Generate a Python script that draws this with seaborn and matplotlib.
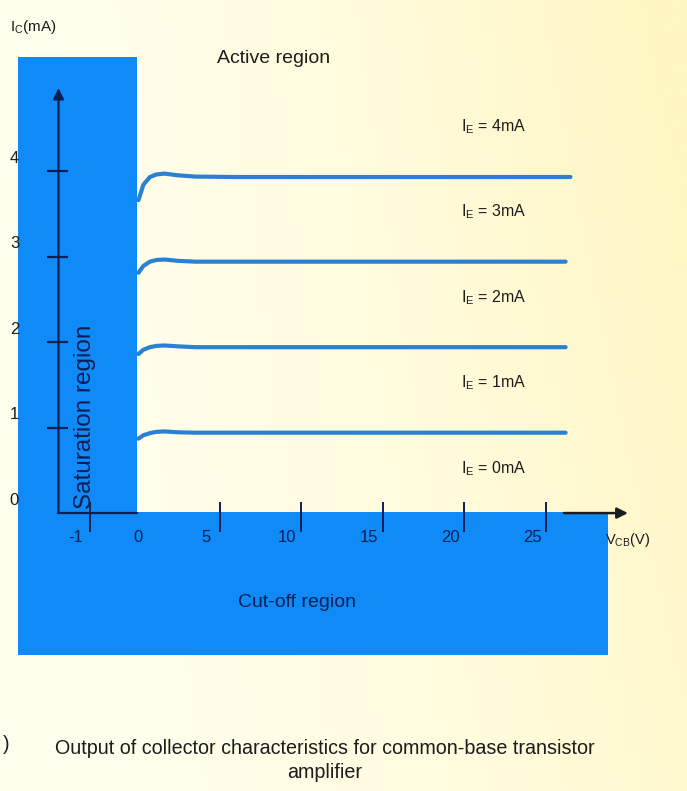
import numpy as np
import pandas as pd
import matplotlib
matplotlib.use("Agg")
import matplotlib.pyplot as plt
from matplotlib.patches import Polygon
import seaborn as sns

# ---- data -------------------------------------------------------------
# emitter-current parameter of each output curve (mA)
ie_levels = [1, 2, 3, 4]
# collector-base voltage samples (V) and collector current (mA) per curve
vcb_1ma = [0, 0.3, 0.7, 1.1, 1.6, 2.4, 3.5, 6, 26.2]
ic_1ma = [0.87, 0.91, 0.935, 0.95, 0.955, 0.945, 0.94, 0.94, 0.94]
vcb_2ma = [0, 0.3, 0.7, 1.1, 1.6, 2.4, 3.5, 6, 26.2]
ic_2ma = [1.86, 1.91, 1.94, 1.955, 1.96, 1.95, 1.94, 1.94, 1.94]
vcb_3ma = [0, 0.3, 0.7, 1.1, 1.6, 2.4, 3.5, 6, 26.2]
ic_3ma = [2.81, 2.89, 2.94, 2.96, 2.965, 2.95, 2.94, 2.94, 2.94]
vcb_4ma = [0, 0.3, 0.7, 1.1, 1.6, 2.4, 3.5, 6, 26.5]
ic_4ma = [3.66, 3.84, 3.93, 3.96, 3.97, 3.95, 3.935, 3.93, 3.93]

label_levels = [0, 1, 2, 3, 4]
x_ticks = [-1, 0, 5, 10, 15, 20, 25]
y_ticks = [0, 1, 2, 3, 4]

# ---- styling ----------------------------------------------------------
sns.set_theme(style="white")
plt.rcParams["font.family"] = ["Liberation Sans", "DejaVu Sans"]
plt.rcParams["mathtext.fontset"] = "custom"
plt.rcParams["mathtext.rm"] = "Liberation Sans"
FONT = ["Liberation Sans", "DejaVu Sans"]

REGION_BLUE = "#0f8af7"
CURVE_BLUE = "#2b80d2"
NAVY = "#0b1f55"
INK = "#1c1c1c"

fig = plt.figure(figsize=(6.87, 7.91), dpi=100)

# warm paper background
bg = fig.add_axes([0, 0, 1, 1], zorder=-5)
gx = np.linspace(0, 1, 300)
gy = np.linspace(0, 1, 300)
GX, GY = np.meshgrid(gx, gy)
t = np.clip(0.75 * GX ** 1.6 + 0.35 * GY * GX, 0, 1)
c0 = np.array([255, 255, 238]) / 255
c1 = np.array([255, 246, 196]) / 255
img = c0[None, None, :] * (1 - t[..., None]) + c1[None, None, :] * t[..., None]
bg.imshow(img, aspect="auto", extent=[0, 1, 0, 1], origin="lower")
bg.axis("off")

ax = fig.add_axes([0, 0, 1, 1])
ax.patch.set_alpha(0)


# negative voltages are drawn on an expanded scale
def fwd(v):
    v = np.asarray(v, dtype=float)
    return np.where(v < 0, 3.0 * v, v)


def inv(u):
    u = np.asarray(u, dtype=float)
    return np.where(u < 0, u / 3.0, u)


ax.set_xscale("function", functions=(fwd, inv))
ax.set_xlim(-2.832, 33.65)
ax.set_ylim(-3.25, 6.0)
ax.axis("off")

# saturation + cut-off regions (one L-shaped block)
region = Polygon(
    [(-2.465, 5.333), (-0.03, 5.333), (-0.03, 0.01), (28.8, 0.01),
     (28.8, -1.66), (-2.465, -1.66)],
    closed=True, facecolor=REGION_BLUE, edgecolor="none", zorder=1)
ax.add_patch(region)

# output characteristic curves
frames = []
for ie, v, i in zip(ie_levels, [vcb_1ma, vcb_2ma, vcb_3ma, vcb_4ma],
                    [ic_1ma, ic_2ma, ic_3ma, ic_4ma]):
    frames.append(pd.DataFrame({"vcb": v, "ic": i, "ie": ie}))
curves = pd.concat(frames, ignore_index=True)
sns.lineplot(data=curves, x="vcb", y="ic", hue="ie",
             palette=[CURVE_BLUE] * len(ie_levels), sort=False,
             legend=False, linewidth=3.0, ax=ax, zorder=3)
for ln in ax.lines:
    ln.set_solid_capstyle("round")
    ln.set_solid_joinstyle("round")

# axes with arrows
y_axis_x = -1.636
ax.annotate("", xy=(y_axis_x, 4.97), xytext=(y_axis_x, 0),
            arrowprops=dict(arrowstyle="-|>", color=NAVY, lw=1.6,
                            mutation_scale=16, shrinkA=0, shrinkB=0),
            zorder=4)
ax.plot([y_axis_x, -0.03], [0, 0], color=NAVY, lw=1.6, zorder=4)
ax.annotate("", xy=(30.03, 0), xytext=(26.1, 0),
            arrowprops=dict(arrowstyle="-|>", color=INK, lw=1.8,
                            mutation_scale=16, shrinkA=0, shrinkB=0),
            zorder=4)

# tick marks
ax.hlines([v for v in y_ticks if v > 0], -1.87, -1.443, color=NAVY,
          lw=1.6, zorder=4)
ax.vlines([v for v in x_ticks if v != 0], -0.22, 0.13, color=NAVY,
          lw=1.4, zorder=4)

# tick labels
for v in x_ticks:
    dx = 0 if v == 0 else -14
    ax.annotate(str(v), xy=(v, 0), xytext=(dx, -24),
                textcoords="offset pixels", ha="center", va="center",
                fontsize=12, family=FONT, color=NAVY, zorder=5)
for v in y_ticks:
    ax.annotate(str(v), xy=(y_axis_x, v + 0.15), xytext=(-44, 0),
                textcoords="offset pixels", ha="center", va="center",
                fontsize=12, family=FONT, color=INK, zorder=5)

# axis titles
ax.text(-2.62, 5.68, r"$\mathregular{I_C}$(mA)", ha="left", va="center",
        fontsize=11, family=FONT, color=INK)
ax.text(28.6, -0.32, r"$\mathregular{V_{CB}}$(V)", ha="left", va="center",
        fontsize=10.5, family=FONT, color=INK, zorder=5)

# curve parameters
for ie in label_levels:
    ax.text(19.8, ie + 0.52, r"$\mathregular{I_E}$ = " + f"{ie}mA",
            ha="left", va="center", fontsize=11.5, family=FONT,
            color=INK, zorder=5)

# region names
ax.text(8.3, 5.32, "Active region", ha="center", va="center",
        fontsize=14, color=INK)
ax.text(9.7, -1.04, "Cut-off region", ha="center", va="center",
        fontsize=14, color=NAVY, zorder=5)
ax.text(-1.094, 1.125, "Saturation region", ha="center", va="center",
        rotation=90, fontsize=17.5, color=NAVY, zorder=5)

# caption
fig.text(0.473, 1 - 748 / 791,
         "Output of collector characteristics for common-base transistor",
         ha="center", va="center", fontsize=14.2, family=FONT, color=INK)
fig.text(0.473, 1 - 773 / 791, "amplifier", ha="center", va="center",
         fontsize=14.2, family=FONT, color=INK)
fig.text(0.004, 1 - 745 / 791, ")", ha="left", va="center",
         fontsize=14.2, family=FONT, color=INK)

fig.savefig("out.png", dpi=100)
